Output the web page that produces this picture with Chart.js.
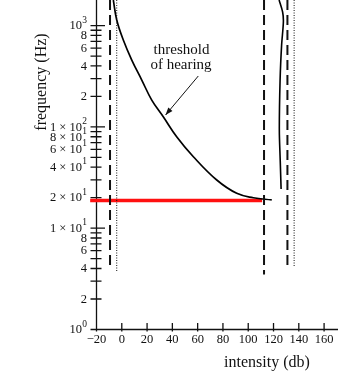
<!DOCTYPE html>
<html>
<head>
<meta charset="utf-8">
<script src="https://cdn.jsdelivr.net/npm/chart.js@4.4.0/dist/chart.umd.min.js"></script>
<style>
  html, body { margin: 0; padding: 0; background: #fff; }
  #wrap { width: 338px; height: 388px; }
</style>
</head>
<body>
<div id="wrap"><canvas id="chart"></canvas></div>
<script>
// axis ticks
const xTicks = [-20, 0, 20, 40, 60, 80, 100, 120, 140, 160];
const yLabeled = [1, 2, 4, 6, 8, 10, 20, 40, 60, 80, 100, 200, 400, 600, 800, 1000];
const yLabelBase = ['10', '2', '4', '6', '8', '1 × 10', '2 × 10', '4 × 10', '6 × 10', '8 × 10',
  '1 × 10', '2', '4', '6', '8', '10'];
const yLabelSup = ['0', '', '', '', '', '1', '1', '1', '1', '1', '2', '', '', '', '', '3'];
const yMinor = [3, 5, 7, 9, 30, 50, 70, 90, 300, 500, 700, 900];
const yDecades = [1, 10, 100, 1000];

// threshold of hearing
const hearX = [-6.7, -4.0, 1.2, 7.9, 15.8, 23.7, 32.8, 43.4, 56.6, 75.1, 90.9, 104, 118.6];
const hearY = [1790, 1136, 721, 457, 290, 184, 126, 80, 50.8, 29.9, 22.1, 20, 19];

// right hand curve
const painX = [124.4, 127.2, 127.8, 126.4, 125.2, 124.6, 125.3, 126.0];
const painY = [1790, 1362, 1086, 642, 290, 93, 47, 24.4];

// vertical limits
const dashX = [-9.3, 112.5, 131];
const dashBottom = [4.0, 3.5, 4.1];
const dotX = [-4, 136.3];
const dotBottom = [3.7, 4.1];
const yTop = 1790;

// red marker line
const redX = [-25, 111];
const redY = 18.8;

// arrow (tail, head)
const arrowX = [60.5, 34.6];
const arrowY = [318, 131];

const pts = (xs, ys) => xs.map((x, i) => ({ x, y: ys[i] }));

function lineSet(data, color, width, dash, tension) {
  return {
    data, borderColor: color, borderWidth: width, borderDash: dash || [],
    showLine: true, pointRadius: 0, fill: false, tension: tension || 0, clip: false
  };
}

const datasets = [];
dashX.forEach((x, i) => datasets.push(lineSet(pts([x, x], [yTop, dashBottom[i]]), '#111', 2, [10, 5])));
dotX.forEach((x, i) => datasets.push(lineSet(pts([x, x], [yTop, dotBottom[i]]), '#111', 1, [1, 1.5])));
datasets.push(lineSet(pts(hearX, hearY), '#000', 1.7, null, 0.4));
datasets.push(lineSet(pts(painX, painY), '#000', 1.6, null, 0.3));
datasets.push(lineSet(pts(redX, [redY, redY]), '#ff1010', 3.5));

const SERIF = '"Liberation Serif", "DejaVu Serif", serif';

const axesPlugin = {
  id: 'axes',
  beforeDatasetsDraw(chart) {
    const { ctx, chartArea: a, scales: { x, y } } = chart;
    ctx.save();
    ctx.strokeStyle = '#111';
    ctx.lineWidth = 1.3;
    ctx.beginPath();
    ctx.moveTo(a.left, a.top);
    ctx.lineTo(a.left, a.bottom);
    ctx.lineTo(a.right, a.bottom);
    yLabeled.concat(yMinor).forEach(v => {
      const py = y.getPixelForValue(v);
      const r = yDecades.includes(v) ? 8.5 : 5;
      ctx.moveTo(a.left - 6, py);
      ctx.lineTo(a.left + r, py);
    });
    xTicks.forEach(v => {
      const px = x.getPixelForValue(v);
      ctx.moveTo(px, a.bottom + 2);
      ctx.lineTo(px, a.bottom - 6.5);
    });
    ctx.stroke();

    // y tick labels with real superscripts
    ctx.fillStyle = '#111';
    ctx.textBaseline = 'middle';
    ctx.textAlign = 'right';
    const right = a.left - 9.5;
    yLabeled.forEach((v, i) => {
      const py = y.getPixelForValue(v);
      let rx = right;
      if (yLabelSup[i]) {
        ctx.font = '9.5px ' + SERIF;
        ctx.fillText(yLabelSup[i], rx, py - 5.5);
        rx -= ctx.measureText(yLabelSup[i]).width + 0.3;
      }
      ctx.font = '12.5px ' + SERIF;
      ctx.fillText(yLabelBase[i], rx, py + 0.5);
    });
    ctx.restore();
  },
  afterDatasetsDraw(chart) {
    const { ctx, scales: { x, y } } = chart;
    ctx.save();
    ctx.fillStyle = '#111';
    ctx.strokeStyle = '#111';
    ctx.textAlign = 'center';
    ctx.textBaseline = 'middle';

    ctx.font = '15px ' + SERIF;
    ctx.fillText('threshold', 181.5, 50);
    ctx.fillText('of hearing', 181, 65);

    ctx.font = '16px ' + SERIF;
    ctx.fillText('intensity (db)', 267, 363);
    ctx.save();
    ctx.translate(41.5, 82);
    ctx.rotate(-Math.PI / 2);
    ctx.fillText('frequency (Hz)', 0, 0);
    ctx.restore();

    // arrow
    const x0 = x.getPixelForValue(arrowX[0]), y0 = y.getPixelForValue(arrowY[0]);
    const x1 = x.getPixelForValue(arrowX[1]), y1 = y.getPixelForValue(arrowY[1]);
    const ang = Math.atan2(y1 - y0, x1 - x0);
    ctx.lineWidth = 1;
    ctx.beginPath();
    ctx.moveTo(x0, y0);
    ctx.lineTo(x1, y1);
    ctx.stroke();
    ctx.beginPath();
    ctx.moveTo(x1, y1);
    ctx.lineTo(x1 - 8 * Math.cos(ang - 0.35), y1 - 8 * Math.sin(ang - 0.35));
    ctx.lineTo(x1 - 8 * Math.cos(ang + 0.35), y1 - 8 * Math.sin(ang + 0.35));
    ctx.closePath();
    ctx.fill();
    ctx.restore();
  }
};

Chart.defaults.font.family = SERIF;
Chart.defaults.color = '#111';

new Chart(document.getElementById('chart'), {
  type: 'scatter',
  data: { datasets },
  plugins: [axesPlugin],
  options: {
    responsive: true,
    maintainAspectRatio: false,
    animation: false,
    layout: { padding: 0 },
    plugins: { legend: { display: false }, tooltip: { enabled: false } },
    scales: {
      x: {
        type: 'linear', min: -20, max: 171,
        afterBuildTicks: s => { s.ticks = xTicks.map(v => ({ value: v })); },
        afterFit: s => { s.height = 58.5; s.paddingLeft = 0; s.paddingRight = 0; },
        grid: { display: false, drawTicks: false },
        border: { display: false },
        ticks: {
          padding: 3, autoSkip: false, maxRotation: 0,
          font: { size: 12.5 },
          callback: v => (v < 0 ? '\u2212' + (-v) : String(v))
        }
      },
      y: {
        type: 'logarithmic', min: 1, max: yTop,
        afterBuildTicks: s => { s.ticks = yLabeled.map(v => ({ value: v })); },
        afterFit: s => { s.width = 96.5; s.paddingTop = 0; s.paddingBottom = 0; },
        grid: { display: false, drawTicks: false },
        border: { display: false },
        ticks: { display: false }
      }
    }
  }
});
</script>
</body>
</html>
